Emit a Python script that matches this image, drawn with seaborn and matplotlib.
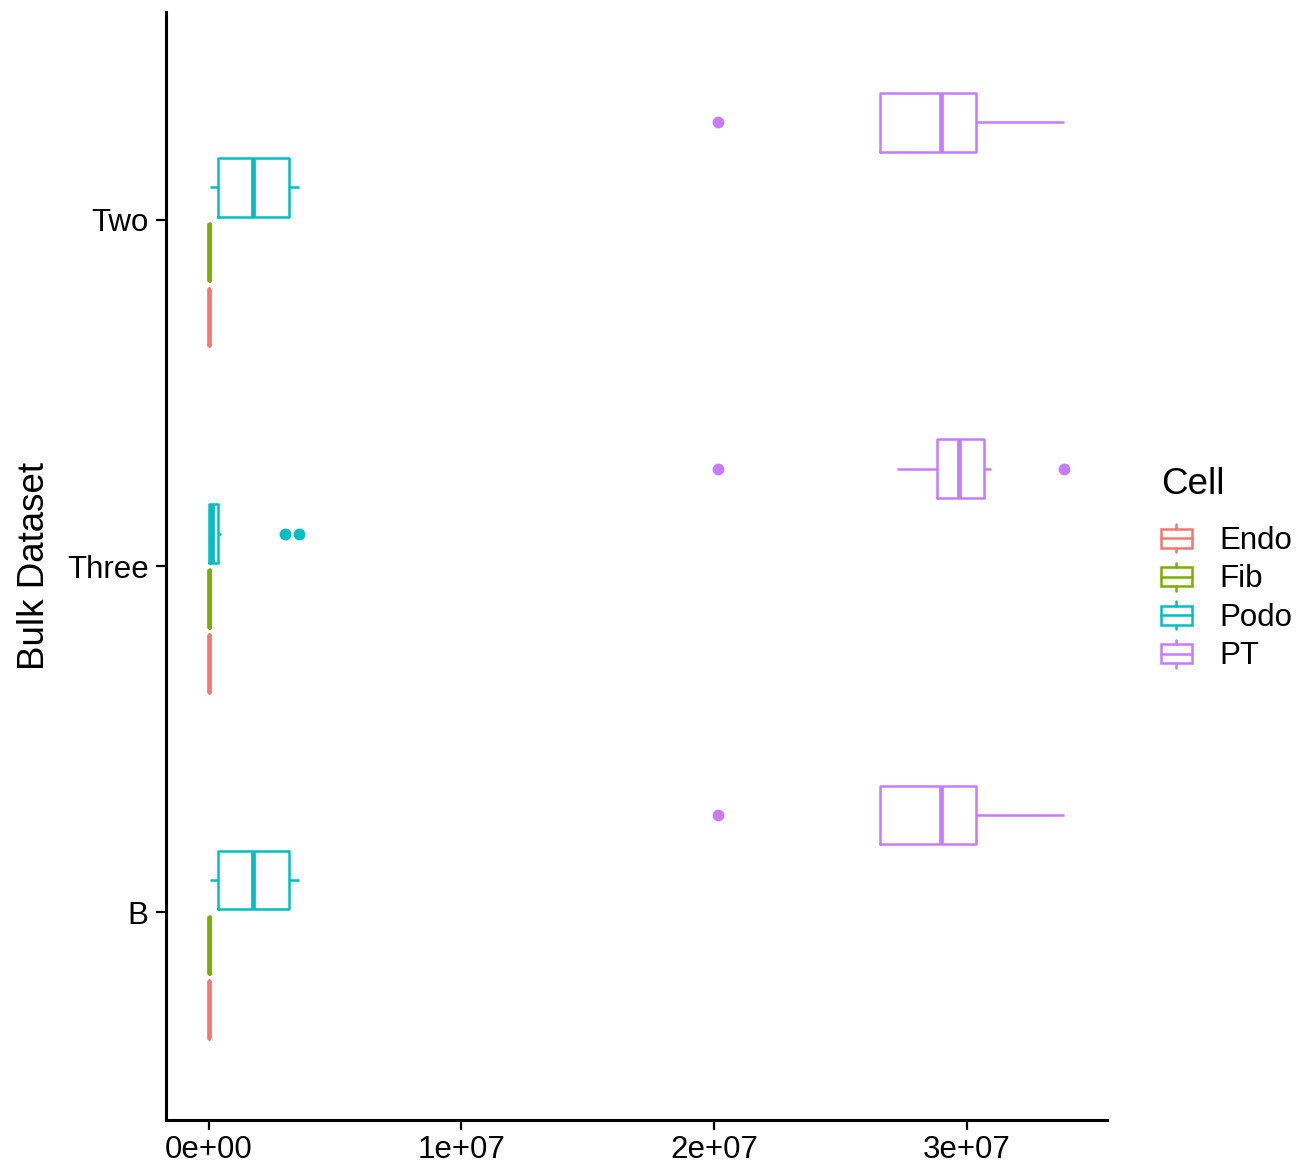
import pandas as pd
import seaborn as sns
import matplotlib.pyplot as plt
from matplotlib.patches import Rectangle, Patch
from matplotlib.lines import Line2D
from matplotlib.legend_handler import HandlerBase

datasets = ["B", "Three", "Two"]
cells = ["Endo", "Fib", "Podo", "PT"]
cell_colors = ["#F8766D", "#7CAE00", "#00BFC4", "#C77CFF"]
x_ticks = [0, 1e7, 2e7, 3e7]
x_tick_labels = ["0e+00", "1e+07", "2e+07", "3e+07"]

# values
endo_b = [8000, 12000, 15000, 18000, 21000, 24000, 27000, 31000, 36000]
endo_three = [8000, 12000, 15000, 18000, 21000, 24000, 27000, 31000, 36000]
endo_two = [8000, 12000, 15000, 18000, 21000, 24000, 27000, 31000, 36000]
fib_b = [10000, 14000, 18000, 22000, 26000, 30000, 34000, 38000, 42000]
fib_three = [10000, 14000, 18000, 22000, 26000, 30000, 34000, 38000, 42000]
fib_two = [10000, 14000, 18000, 22000, 26000, 30000, 34000, 38000, 42000]
podo_b = [40000, 210000, 383000, 1000000, 1767000, 2500000, 3170000, 3300000, 3570000]
podo_three = [0, 0, 0, 0, 40000, 110000, 180000, 212000, 500000, 3000000, 3570000]
podo_two = [40000, 210000, 383000, 1000000, 1767000, 2500000, 3170000, 3300000, 3570000]
pt_b = [20146000, 26560000, 26560000, 28000000, 28960000, 29600000, 30340000, 31800000, 33830000]
pt_three = [20146000, 27250000, 28810000, 29300000, 29670000, 30200000, 30680000, 30970000, 33850000]
pt_two = [20146000, 26560000, 26560000, 28000000, 28960000, 29600000, 30340000, 31800000, 33830000]

groups = {
    ("Endo", "B"): endo_b, ("Endo", "Three"): endo_three, ("Endo", "Two"): endo_two,
    ("Fib", "B"): fib_b, ("Fib", "Three"): fib_three, ("Fib", "Two"): fib_two,
    ("Podo", "B"): podo_b, ("Podo", "Three"): podo_three, ("Podo", "Two"): podo_two,
    ("PT", "B"): pt_b, ("PT", "Three"): pt_three, ("PT", "Two"): pt_two,
}
rows = []
for (cell, ds), vals in groups.items():
    for v in vals:
        rows.append({"Cell": cell, "Bulk Dataset": ds, "value": v})
df = pd.DataFrame(rows)

sns.set_style("ticks")
plt.rcParams["font.family"] = ["Liberation Sans", "DejaVu Sans"]
plt.rcParams["text.color"] = "black"
plt.rcParams["axes.labelcolor"] = "black"
plt.rcParams["xtick.color"] = "black"
plt.rcParams["ytick.color"] = "black"

fig = plt.figure(figsize=(12.97, 11.70), dpi=100)
ax = fig.add_axes([0.128, 0.0427, 0.7255, 0.947])

palette = dict(zip(cells, cell_colors))
sns.boxplot(data=df, x="value", y="Bulk Dataset", hue="Cell",
            order=datasets, hue_order=cells, palette=palette,
            fill=False, width=0.75, gap=0.1, linewidth=1.8,
            showcaps=False, whis=1.5,
            medianprops={"linewidth": 3.4},
            flierprops={"marker": "o", "markersize": 8.5, "markeredgewidth": 0},
            legend=False, ax=ax)

for ln in ax.lines:
    if ln.get_marker() == "o":
        ln.set_markerfacecolor(ln.get_markeredgecolor())
        ln.set_markeredgewidth(0)

ax.set_ylim(-0.6, 2.6)
ax.set_xlim(-1692500, 35542500)
ax.set_xticks(x_ticks)
ax.set_xticklabels(x_tick_labels)
ax.set_xlabel("")
ax.set_ylabel("Bulk Dataset", fontsize=26.5, labelpad=11)
ax.tick_params(axis="both", labelsize=22.5, length=7, width=1.6,
               color="black", labelcolor="black", pad=4)
ax.tick_params(axis="y", pad=5.5)
sns.despine(ax=ax)
for s in ["left", "bottom"]:
    ax.spines[s].set_linewidth(2.2)
    ax.spines[s].set_color("black")


class BoxKey(HandlerBase):
    def create_artists(self, legend, orig_handle, xdescent, ydescent,
                       width, height, fontsize, trans):
        c = orig_handle.get_edgecolor()
        x0, y0 = -xdescent, -ydescent
        box = Rectangle((x0, y0 + 0.16 * height), width, 0.68 * height,
                        facecolor="white", edgecolor=c, lw=1.8, transform=trans)
        mid = Line2D([x0, x0 + width], [y0 + 0.5 * height] * 2, color=c, lw=1.8, transform=trans)
        top = Line2D([x0 + width / 2] * 2, [y0 + 0.84 * height, y0 + height], color=c, lw=1.8, transform=trans)
        bot = Line2D([x0 + width / 2] * 2, [y0, y0 + 0.16 * height], color=c, lw=1.8, transform=trans)
        return [box, mid, top, bot]


handles = [Patch(edgecolor=c, facecolor="white") for c in cell_colors]
leg = fig.legend(handles, cells, title="Cell", loc="upper left",
                 bbox_to_anchor=(0.895, 0.601), frameon=False,
                 handler_map={Patch: BoxKey()}, fontsize=22.5,
                 title_fontsize=26.5, handlelength=1.0, handleheight=1.0,
                 handletextpad=0.86, labelspacing=0.22, borderpad=0,
                 borderaxespad=0, alignment="left")
# extra room between legend title and keys, as in the reference
leg._legend_box.sep = 16

fig.savefig("out.png", dpi=100)
